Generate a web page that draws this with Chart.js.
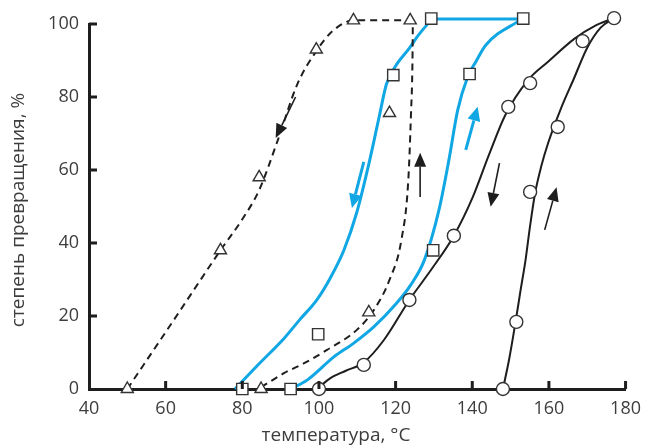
<!DOCTYPE html>
<html>
<head>
<meta charset="utf-8">
<script src="https://cdn.jsdelivr.net/npm/chart.js@4.4.1/dist/chart.umd.min.js"></script>
<style>
    html, body { margin: 0; padding: 0; background: #fff; }
    #box { width: 650px; height: 447px; position: relative; }
</style>
</head>
<body>
<div id="box"><canvas id="grafico"></canvas></div>
<script>

// axis ticks
const xTicks = [40, 60, 80, 100, 120, 140, 160, 180];
const yTicks = [0, 20, 40, 60, 80, 100];
const xTitle = 'температура, °C';
const yTitle = 'степень превращения, %';

// dashed curves (triangles): cooling branch and heating branch
const dashCoolT = [50, 62, 74.3, 80, 84.4, 89.2, 94.4, 99.6, 103.5, 109, 124.5];
const dashCoolY = [0, 18.7, 38, 46.5, 54.5, 68, 83.6, 93, 98, 101, 101];
const dashHeatT = [84.9, 91, 96, 102.1, 109.9, 114.3, 118.4, 121.5, 123.3, 124, 124.4, 124.5];
const dashHeatY = [0.5, 4.4, 7, 10.7, 16.2, 21.6, 29.9, 40.8, 57, 75, 90, 101];

// blue curves (squares)
const blueCoolT = [78.1, 84, 91, 95, 99.5, 103, 106.5, 109.9, 113.2, 115.8, 117.6, 120, 123.6, 126, 129.5];
const blueCoolY = [0, 6.5, 14, 19, 24.5, 30.5, 38, 48.5, 62.5, 75, 83.5, 88.5, 93.4, 97, 101.4];
const blueTopT = [129.5, 153];
const blueTopY = [101.4, 101.4];
const blueHeatT = [92.6, 97, 103.9, 109, 114.3, 120, 124, 127.5, 131.3, 133.9, 136.2, 138.8, 140.9, 143.5, 153];
const blueHeatY = [0, 2.5, 8.8, 12.5, 17, 23.2, 28.6, 35.3, 49, 62.7, 76.4, 85.5, 89.6, 94.2, 101.4];

// solid black curves (circles)
const blackCoolT = [100, 103, 107, 111.7, 117, 123.6, 129.5, 135.2, 140.1, 144.3, 148.6, 154.6, 159.7, 166.7, 172, 177];
const blackCoolY = [0.5, 3, 5, 7.3, 13.5, 24.4, 33, 42, 52.5, 64, 75, 84.7, 89.6, 96, 99.5, 101.6];
const blackHeatT = [148, 149.6, 151.3, 152.6, 153.9, 155, 156.4, 158, 159.8, 163, 166.5, 170, 173.5, 177];
const blackHeatY = [0, 8, 18.4, 27, 35.3, 44, 53.7, 61, 67.4, 76.5, 85, 93.5, 99, 101.6];

// measured points
const triT = [50, 74.3, 84.4, 99.3, 109, 123.8, 84.9, 113, 118.4];
const triY = [0, 38, 58, 93, 101, 101, 0, 21, 75.6];
const sqT = [80, 99.8, 119.4, 129.3, 92.6, 129.8, 139.3, 153.3];
const sqY = [0, 15, 86, 101.5, 0, 38, 86.3, 101.5];
const circT = [100, 111.7, 123.6, 135.2, 149.4, 155.1, 168.8, 177, 148, 151.5, 155.1, 162.3];
const circY = [0, 6.6, 24.4, 42, 77.3, 83.8, 95.3, 101.6, 0, 18.4, 54, 71.8];

// direction arrows: start and end (°C, %)
const arrowFrom = [[93.9, 80], [111.7, 62.2], [126.4, 52.6], [138.3, 65.5], [147.1, 61.9], [158.9, 43.6]];
const arrowTo = [[88.7, 68.8], [108.6, 49.6], [126.4, 64.7], [141.4, 77.3], [144.8, 49.9], [162, 55.3]];

const INK = '#1e1e1e';
const BLUE = '#10a7e4';
const TEXT = '#3d3d3d';
const arrowColor = [INK, BLUE, INK, BLUE, INK, INK];

const pts = (xs, ys) => xs.map((t, i) => ({ x: t, y: ys[i] }));

function curve(xs, ys, color, width, dash) {
    return {
        data: pts(xs, ys),
        showLine: true,
        borderColor: color,
        borderWidth: width,
        borderDash: dash || [],
        pointRadius: 0,
        cubicInterpolationMode: 'monotone',
        clip: false,
        order: 2
    };
}

function markers(xs, ys, style, radius) {
    return {
        data: pts(xs, ys),
        showLine: false,
        pointStyle: style,
        pointRadius: radius,
        pointBorderWidth: 1.4,
        pointBorderColor: '#333',
        pointBackgroundColor: '#fff',
        clip: false,
        order: 0
    };
}

function drawArrow(ctx, x0, y0, x1, y1, color, w) {
    const ang = Math.atan2(y1 - y0, x1 - x0);
    const len = 14, half = w > 2 ? 6.5 : 6;
    const bx = x1 - len * Math.cos(ang), by = y1 - len * Math.sin(ang);
    ctx.strokeStyle = color;
    ctx.fillStyle = color;
    ctx.lineWidth = w;
    ctx.beginPath();
    ctx.moveTo(x0, y0);
    ctx.lineTo(bx, by);
    ctx.stroke();
    ctx.beginPath();
    ctx.moveTo(x1, y1);
    ctx.lineTo(bx + half * Math.sin(ang), by - half * Math.cos(ang));
    ctx.lineTo(bx - half * Math.sin(ang), by + half * Math.cos(ang));
    ctx.closePath();
    ctx.fill();
}

// inward tick marks, arrows and axis titles
const extras = {
    id: 'extras',
    afterDatasetsDraw(chart) {
        const { ctx, scales: { x, y } } = chart;
        ctx.save();
        arrowFrom.forEach((p, i) => {
            const q = arrowTo[i];
            drawArrow(ctx,
                x.getPixelForValue(p[0]), y.getPixelForValue(p[1]),
                x.getPixelForValue(q[0]), y.getPixelForValue(q[1]),
                arrowColor[i], arrowColor[i] === BLUE ? 3 : 1.6);
        });
        ctx.restore();
    },
    afterDraw(chart) {
        const { ctx, chartArea: a, scales: { x, y } } = chart;
        ctx.save();
        ctx.strokeStyle = INK;
        ctx.lineWidth = 3;
        ctx.beginPath();
        xTicks.slice(1).forEach(v => {
            const px = x.getPixelForValue(v);
            ctx.moveTo(px, a.bottom);
            ctx.lineTo(px, a.bottom - 8);
        });
        yTicks.slice(1).forEach(v => {
            const py = y.getPixelForValue(v);
            ctx.moveTo(a.left, py);
            ctx.lineTo(a.left + 8, py);
        });
        ctx.stroke();

        ctx.fillStyle = TEXT;
        ctx.font = '19px "Open Sans"';
        ctx.textAlign = 'center';
        ctx.textBaseline = 'middle';
        ctx.fillText(xTitle, 336, 436);
        ctx.translate(19, 210);
        ctx.rotate(-Math.PI / 2);
        ctx.fillText(yTitle, 0, 0);
        ctx.restore();
    }
};

const tickFont = { family: 'Open Sans', size: 18 };

new Chart(document.getElementById('grafico'), {
    type: 'scatter',
    data: {
        datasets: [
            markers(triT, triY, 'triangle', 7),
            markers(sqT, sqY, 'rect', 8),
            markers(circT, circY, 'circle', 6.5),
            curve(dashCoolT, dashCoolY, INK, 2, [7, 5]),
            curve(dashHeatT, dashHeatY, INK, 2, [7, 5]),
            curve(blackCoolT, blackCoolY, INK, 2),
            curve(blackHeatT, blackHeatY, INK, 2),
            curve(blueCoolT, blueCoolY, BLUE, 3),
            curve(blueHeatT, blueHeatY, BLUE, 3),
            { ...curve(blueTopT, blueTopY, BLUE, 3), cubicInterpolationMode: 'default', tension: 0 }
        ]
    },
    options: {
        responsive: true,
        maintainAspectRatio: false,
        animation: false,
        layout: { padding: { top: 24, right: 19, bottom: 0, left: 0 } },
        plugins: {
            legend: { display: false },
            tooltip: { enabled: false }
        },
        scales: {
            x: {
                type: 'linear',
                min: 40,
                max: 180,
                afterBuildTicks: s => { s.ticks = xTicks.map(v => ({ value: v })); },
                afterFit: s => { s.height = 58; },
                grid: { display: false, drawTicks: false },
                border: { color: INK, width: 3 },
                ticks: { padding: 9, color: TEXT, font: tickFont, maxRotation: 0 }
            },
            y: {
                min: 0,
                max: 100,
                afterBuildTicks: s => { s.ticks = yTicks.map(v => ({ value: v })); },
                afterFit: s => { s.width = 89; },
                grid: { display: false, drawTicks: false },
                border: { color: INK, width: 3 },
                ticks: { padding: 10, color: TEXT, font: tickFont }
            }
        }
    },
    plugins: [extras]
});
</script>
</body>
</html>
